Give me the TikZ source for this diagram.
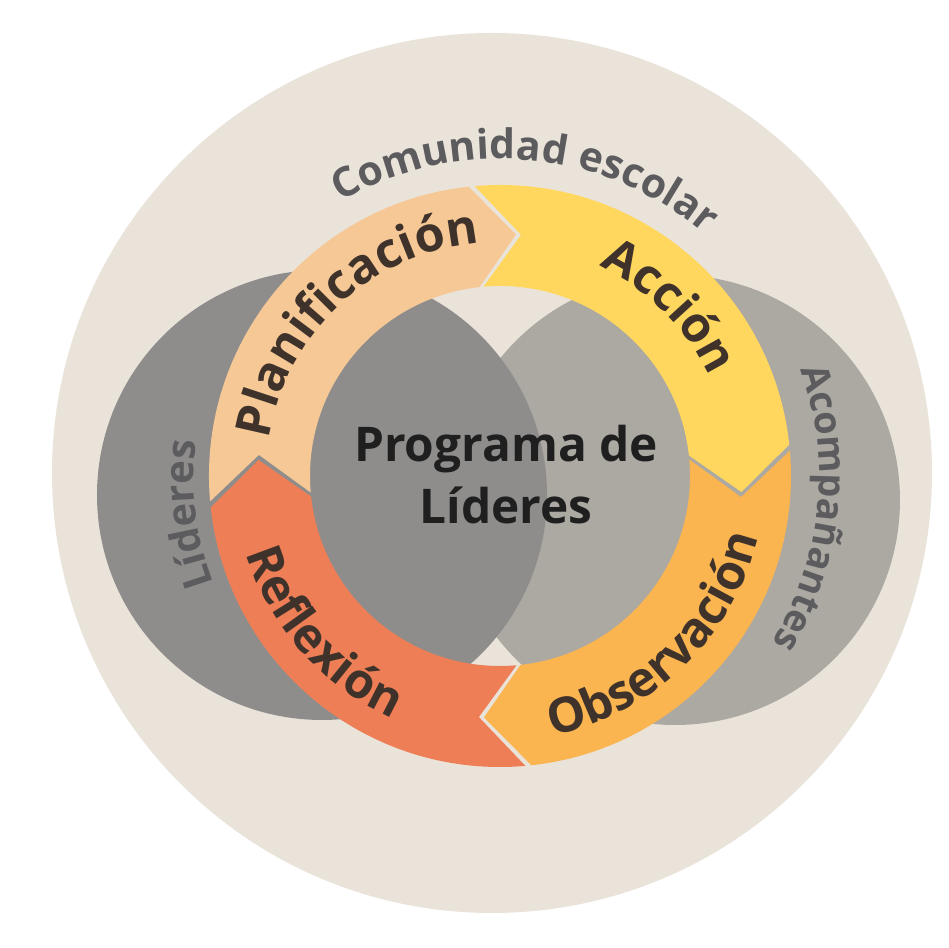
\documentclass[tikz,border=0pt]{standalone}
\usepackage{fontspec}
\setmainfont{Open Sans}
\usepackage{tikz}
\usetikzlibrary{decorations.text}
\definecolor{comu}{RGB}{234,227,218}
\definecolor{lid}{RGB}{143,141,140}
\definecolor{aco}{RGB}{172,168,162}
\definecolor{plan}{RGB}{246,200,150}
\definecolor{acc}{RGB}{255,215,95}
\definecolor{obs}{RGB}{250,180,80}
\definecolor{refl}{RGB}{238,126,86}
\definecolor{segtxt}{RGB}{62,50,42}
\definecolor{graytxt}{RGB}{92,92,95}

% one piece of the ring: tail angle, colour
\newcommand{\ringseg}[2]{%
\fill [#2] (#1:2.91) arc [radius=2.91, start angle=#1, end angle=#1-88.8]
  -- ({#1-98.8}:2.42) -- ({#1-88.8}:1.90)
  arc [radius=1.90, start angle=#1-88.8, end angle=#1]
  -- ({#1-10}:2.42) -- cycle;}

\begin{document}
\begin{tikzpicture}
\useasboundingbox (-5.00,-4.72) rectangle (4.49,4.76);
\fill [white] (-5.00,-4.72) rectangle (4.49,4.76);

\fill [comu] (-0.08,0.03) circle [radius=4.40];
\fill [aco] (1.75,-0.24) circle [radius=2.25];
\fill [lid] (-1.78,-0.19) circle [radius=2.25];

\ringseg{185}{plan}
\ringseg{95}{acc}
\ringseg{5}{obs}
\ringseg{-85}{refl}

%\draw [red] (0,0) circle [radius=2.405];

\node (prog) at (0.06,0.01) [align=center, text=black!88,
  font=\fontsize{13.6}{17.6}\selectfont\bfseries] {Programa de\\Líderes};

% texts on the ring
\path [decorate, decoration={text along path, text align=center, text color=segtxt,
  text={|\fontsize{13.8}{16}\selectfont\bfseries|Planificación}}]
  (193:2.34) arc [radius=2.34, start angle=193, end angle=73];
\path [decorate, decoration={text along path, text align=center, text color=segtxt,
  text={|\fontsize{13.8}{16}\selectfont\bfseries|Acción}}]
  (105:2.32) arc [radius=2.32, start angle=105, end angle=-15];
\path [decorate, decoration={text along path, text align=center, text color=segtxt,
  text={|\fontsize{13.8}{16}\selectfont\bfseries|Observación}}]
  (-106:2.65) arc [radius=2.65, start angle=-106, end angle=14];
\path [decorate, decoration={text along path, text align=center, text color=segtxt,
  text={|\fontsize{13.8}{16}\selectfont\bfseries|Reflexión}}]
  (-198.5:2.65) arc [radius=2.65, start angle=-198.5, end angle=-78.5];

% outer texts
\path [decorate, decoration={text along path, text align=center, text color=graytxt,
  text={|\fontsize{11.6}{13}\selectfont\bfseries|Comunidad escolar}}]
  (150:3.17) arc [radius=3.17, start angle=150, end angle=20];
\path [decorate, decoration={text along path, text align=center, text color=graytxt,
  text={|\fontsize{10.8}{13}\selectfont\bfseries|Acompañantes}}]
  (59:3.19) arc [radius=3.19, start angle=59, end angle=-71];
\path [decorate, decoration={text along path, text align=center, text color=graytxt,
  text={|\fontsize{11.4}{13}\selectfont\bfseries|Líderes}}]
  (252:3.06) arc [radius=3.06, start angle=252, end angle=122];
\end{tikzpicture}
\end{document}
